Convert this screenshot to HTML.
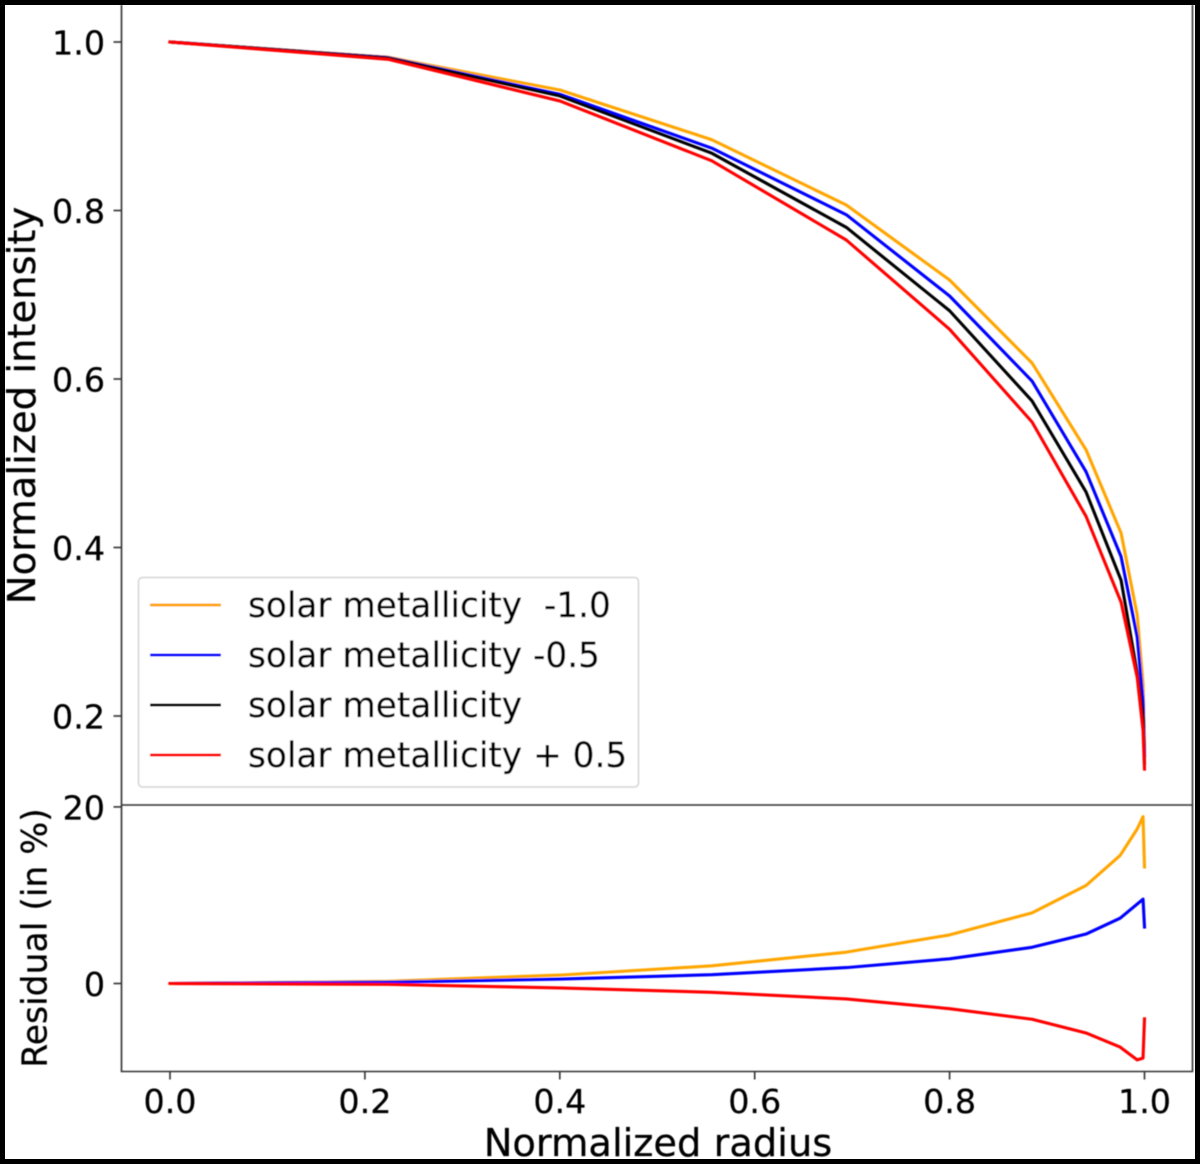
<!DOCTYPE html>
<html lang="en">
<head>
<meta charset="utf-8">
<title>Normalized intensity vs radius</title>
<style>
html,body{margin:0;padding:0;background:#fff;}
svg{display:block;}
text{font-family:"DejaVu Sans","Liberation Sans",sans-serif;fill:#000;stroke:#000;stroke-width:0.25px;}
</style>
</head>
<body>
<svg id="chart" xmlns="http://www.w3.org/2000/svg" width="1200" height="1164" viewBox="0 0 1200 1164">
<defs><filter id="soft" x="-5%" y="-5%" width="110%" height="110%"><feGaussianBlur stdDeviation="0.45"/></filter></defs>
<rect x="0" y="0" width="1200" height="1164" fill="#fff"/>
<g id="root" filter="url(#soft)"></g>
<path d="M2.5 2.5H1197.5V1161.5H2.5Z" fill="none" stroke="#000" stroke-width="5"/>
<rect x="1195" y="0" width="5" height="1164" fill="#000"/>
</svg>
<script>
// Data
const radius = [0, 0.2237, 0.4, 0.556, 0.694, 0.8, 0.8846, 0.94, 0.976, 0.9925, 0.9985, 1.0];
const intensityMetalM10 = [1, 0.982, 0.943, 0.884, 0.8065, 0.7175, 0.619, 0.516, 0.417, 0.32, 0.238, 0.162];
const intensityMetalM05 = [1, 0.9815, 0.938, 0.874, 0.795, 0.6985, 0.5976, 0.49, 0.389, 0.294, 0.219, 0.153];
const intensityMetalSolar = [1, 0.981, 0.936, 0.868, 0.78, 0.681, 0.574, 0.466, 0.361, 0.251, 0.2, 0.1435];
const intensityMetalP05 = [1, 0.9795, 0.93, 0.859, 0.765, 0.659, 0.549, 0.437, 0.335, 0.246, 0.183, 0.137];
const residualRadius = [0, 0.2237, 0.4, 0.556, 0.694, 0.8, 0.8846, 0.94, 0.975, 0.9925, 0.9985, 1.0];
const residualMetalM10 = [0, 0.25, 0.95, 2.0, 3.55, 5.5, 8.0, 11.1, 14.5, 17.5, 18.9, 13.2];
const residualMetalM05 = [0, 0.15, 0.5, 1.0, 1.8, 2.8, 4.1, 5.6, 7.4, 9.0, 9.55, 6.4];
const residualMetalP05 = [0, -0.1, -0.5, -1.0, -1.75, -2.85, -4.05, -5.6, -7.2, -8.65, -8.45, -4.0];
const xTicks = [0, 0.2, 0.4, 0.6, 0.8, 1.0];
const xTickLabels = ["0.0", "0.2", "0.4", "0.6", "0.8", "1.0"];
const yTopTicks = [0.2, 0.4, 0.6, 0.8, 1.0];
const yTopTickLabels = ["0.2", "0.4", "0.6", "0.8", "1.0"];
const yBottomTicks = [0, 20];
const yBottomTickLabels = ["0", "20"];
const legendLabels = ["solar metallicity  -1.0", "solar metallicity -0.5", "solar metallicity", "solar metallicity + 0.5"];

const colorOrange = "#ffa500", colorBlue = "#0000ff", colorBlack = "#000000", colorRed = "#ff0000";
const NS = "http://www.w3.org/2000/svg";
const root = document.getElementById("root");
const xPos = v => 170 + v * 974.5;
const yTop = v => 42 + (1 - v) * 842.5;
const yBottom = v => 983.5 - v * 8.83;

function make(tag, attrs, parent) {
  const el = document.createElementNS(NS, tag);
  for (const k in attrs) el.setAttribute(k, attrs[k]);
  (parent || root).appendChild(el);
  return el;
}
function series(xs, ys, yFn, color) {
  const pts = xs.map((x, i) => xPos(x).toFixed(2) + "," + yFn(ys[i]).toFixed(2)).join(" ");
  return make("polyline", {points: pts, fill: "none", stroke: color, "stroke-width": 3.1, "stroke-linejoin": "round", "stroke-linecap": "square"});
}
function label(str, x, y, size, anchor) {
  const t = make("text", {x: x, y: y, "font-size": size, "text-anchor": anchor || "middle"});
  t.setAttribute("xml:space", "preserve");
  t.style.whiteSpace = "pre";
  t.textContent = str;
  return t;
}
const spineColor = "#333";

// Series, upper panel
let el;
el = series(radius, intensityMetalM10, yTop, colorOrange);


el = series(radius, intensityMetalM05, yTop, colorBlue);


el = series(radius, intensityMetalSolar, yTop, colorBlack);


el = series(radius, intensityMetalP05, yTop, colorRed);



// Series, lower panel
el = series(residualRadius, residualMetalM10, yBottom, colorOrange);


el = series(residualRadius, residualMetalM05, yBottom, colorBlue);


el = series(residualRadius, residualMetalP05, yBottom, colorRed);



// Spines
el = make("path", {d: "M121.5 5V1071.5H1192.5V5", fill: "none", stroke: spineColor, "stroke-width": 1.6});


el = make("line", {x1: 121, x2: 1193, y1: 805, y2: 805, stroke: spineColor, "stroke-width": 1.6});



// X ticks
xTicks.forEach((v, i) => {
  const tick = make("line", {x1: xPos(v), x2: xPos(v), y1: 1071.5, y2: 1079.5, stroke: spineColor, "stroke-width": 1.6});
  
  
  const txt = label(xTickLabels[i], xPos(v), 1113, 33.3);
  
  
});
// Upper Y ticks
yTopTicks.forEach((v, i) => {
  const tick = make("line", {x1: 113.5, x2: 121.5, y1: yTop(v), y2: yTop(v), stroke: spineColor, "stroke-width": 1.6});
  
  
  const txt = label(yTopTickLabels[i], 105, yTop(v) + 12.5, 33.3, "end");
  
  
});
// Lower Y ticks
yBottomTicks.forEach((v, i) => {
  const tick = make("line", {x1: 113.5, x2: 121.5, y1: yBottom(v), y2: yBottom(v), stroke: spineColor, "stroke-width": 1.6});
  
  
  const txt = label(yBottomTickLabels[i], 105, yBottom(v) + 12.5, 33.3, "end");
  
  
});

// Axis titles
el = label("Normalized radius", 658, 1156, 38.4);


el = label("Normalized intensity", 0, 0, 38.5);
el.setAttribute("transform", "translate(35 405.5) rotate(-90)");


el = label("Residual (in %)", 0, 0, 34.6);
el.setAttribute("transform", "translate(46.5 938) rotate(-90)");



// Legend
el = make("rect", {x: 138.5, y: 577.5, width: 500, height: 209.5, rx: 4, ry: 4, fill: "#fff", stroke: "#d4d4d4", "stroke-width": 1.5});


const legendColors = [colorOrange, colorBlue, colorBlack, colorRed];
legendLabels.forEach((str, i) => {
  const y = 605 + i * 50;
  const sw = make("line", {x1: 150, x2: 221, y1: y, y2: y, stroke: legendColors[i], "stroke-width": 3});
  
  
  const txt = label(str, 248, y + 12, 34.3, "start");
  
  
});
</script>
</body>
</html>
